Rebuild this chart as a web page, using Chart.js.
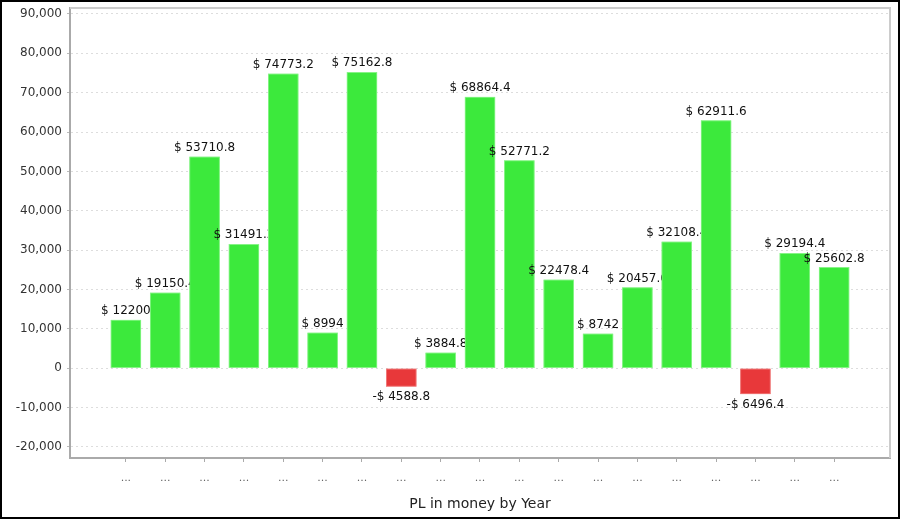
<!DOCTYPE html>
<html>
<head>
<meta charset="utf-8">
<script src="https://cdn.jsdelivr.net/npm/chart.js@4"></script>
<style>
  html, body { margin: 0; padding: 0; background: #fff; }
  #wrap { width: 900px; height: 519px; position: relative; }
</style>
</head>
<body>
<div id="wrap"><canvas id="plChart"></canvas></div>
<script>
// Data per tahun (label sumbu x hanya "...")
var kategori = ['...', '...', '...', '...', '...', '...', '...', '...', '...', '...',
    '...', '...', '...', '...', '...', '...', '...', '...', '...'];
var nilaiPL = [12200, 19150.4, 53710.8, 31491.2, 74773.2, 8994, 75162.8, -4588.8, 3884.8, 68864.4,
    52771.2, 22478.4, 8742, 20457.6, 32108.4, 62911.6, -6496.4, 29194.4, 25602.8];
var yTicks = [-20000, -10000, 0, 10000, 20000, 30000, 40000, 50000, 60000, 70000, 80000, 90000];

var hijau = '#3ce93c';
var merah = '#e8383a';

var titikData = nilaiPL.map(function (v, i) { return { x: i, y: v }; });

function formatUang(v) {
    return v < 0 ? '-$ ' + Math.abs(v) : '$ ' + v;
}

// gambar ulang bar satu per satu lalu labelnya, supaya label ketutup bar berikutnya
var labelPlugin = {
    id: 'labelBar',
    afterDatasetsDraw: function (chart) {
        var ctx = chart.ctx;
        var meta = chart.getDatasetMeta(0);
        ctx.save();
        ctx.font = '12px "DejaVu Sans"';
        ctx.fillStyle = '#111';
        ctx.textAlign = 'center';
        meta.data.forEach(function (bar, i) {
            bar.draw(ctx);
            var v = nilaiPL[i];
            if (v >= 0) {
                ctx.textBaseline = 'bottom';
                ctx.fillText(formatUang(v), bar.x, bar.y - 3);
            } else {
                ctx.textBaseline = 'top';
                ctx.fillText(formatUang(v), bar.x, bar.y + 5);
            }
        });
        ctx.restore();
    }
};

var bingkaiPlugin = {
    id: 'bingkai',
    beforeDatasetsDraw: function (chart) {
        var a = chart.chartArea;
        var ctx = chart.ctx;
        ctx.save();
        ctx.strokeStyle = '#cccccc';
        ctx.lineWidth = 2;
        ctx.beginPath();
        ctx.moveTo(a.left, a.top);
        ctx.lineTo(a.right, a.top);
        ctx.lineTo(a.right, a.bottom);
        ctx.stroke();
        ctx.restore();
    },
    afterDraw: function (chart) {
        var ctx = chart.ctx;
        ctx.save();
        ctx.strokeStyle = '#000';
        ctx.lineWidth = 2;
        ctx.strokeRect(1, 1, chart.width - 2, chart.height - 2);
        ctx.restore();
    }
};

var ctx1 = document.getElementById('plChart').getContext('2d');
var plChart = new Chart(ctx1, {
    type: 'bar',
    data: {
        datasets: [{
            label: 'PL',
            data: titikData,
            backgroundColor: nilaiPL.map(function (v) { return v < 0 ? merah : hijau; }),
            borderColor: nilaiPL.map(function (v) { return v < 0 ? '#f07a7a' : '#86f486'; }),
            borderWidth: 1,
            borderSkipped: false,
            barThickness: 30
        }]
    },
    options: {
        responsive: true,
        maintainAspectRatio: false,
        animation: false,
        layout: { padding: { left: 0, top: 8, right: 10, bottom: 0 } },
        plugins: {
            legend: { display: false },
            tooltip: { enabled: false }
        },
        scales: {
            x: {
                type: 'linear',
                offset: false,
                min: -1.42,
                max: 19.42,
                afterBuildTicks: function (axis) {
                    axis.ticks = kategori.map(function (k, i) { return { value: i }; });
                },
                afterFit: function (axis) { axis.height = 61; },
                ticks: {
                    autoSkip: false,
                    maxRotation: 0,
                    padding: 10,
                    color: '#666',
                    font: { family: 'DejaVu Sans', size: 11 },
                    callback: function (val) { return kategori[val]; }
                },
                grid: {
                    offset: false,
                    drawOnChartArea: false,
                    drawTicks: true,
                    tickLength: 4,
                    color: '#aaaaaa'
                },
                border: { color: '#aaaaaa', width: 2 },
                title: {
                    display: true,
                    text: 'PL in money by Year',
                    color: '#222',
                    font: { family: 'DejaVu Sans', size: 14 },
                    padding: { top: 4, bottom: 6 }
                }
            },
            y: {
                min: -22800,
                max: 91500,
                afterBuildTicks: function (axis) {
                    axis.ticks = yTicks.map(function (v) { return { value: v }; });
                },
                afterFit: function (axis) {
                    axis.width = 70;
                    axis.paddingTop = 0;
                    axis.paddingBottom = 0;
                },
                ticks: {
                    padding: 5,
                    color: '#333',
                    font: { family: 'DejaVu Sans', size: 12 },
                    callback: function (val) { return val.toLocaleString('en-US'); }
                },
                grid: {
                    color: '#dddddd',
                    tickLength: 3,
                    tickColor: '#bbbbbb',
                    tickBorderDash: [0, 0]
                },
                border: { color: '#aaaaaa', width: 2, dash: [2, 3] }
            }
        }
    },
    plugins: [labelPlugin, bingkaiPlugin]
});
</script>
</body>
</html>
